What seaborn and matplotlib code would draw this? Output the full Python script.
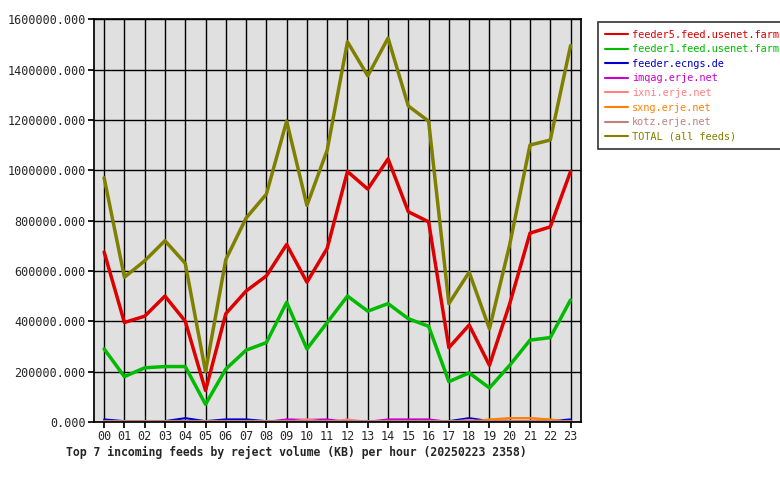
import matplotlib
matplotlib.use("Agg")
import matplotlib.pyplot as plt
import seaborn as sns
import pandas as pd

sns.set_theme(style="white")
plt.rcParams["font.family"] = ["DejaVu Sans Mono"]

hours = [f"{h:02d}" for h in range(24)]
feeder5 = [675000, 395000, 420000, 500000, 400000, 125000, 430000, 520000, 580000, 705000, 555000, 690000,
           995000, 925000, 1045000, 835000, 795000, 295000, 385000, 225000, 470000, 750000, 775000, 995000]
feeder1 = [290000, 180000, 215000, 220000, 220000, 70000, 210000, 285000, 315000, 475000, 290000, 395000,
           500000, 440000, 470000, 410000, 380000, 160000, 195000, 135000, 225000, 325000, 335000, 485000]
ecngs = [10000, 3000, 3000, 3000, 15000, 3000, 10000, 10000, 3000, 3000, 3000, 3000,
         3000, 3000, 3000, 3000, 3000, 3000, 15000, 3000, 3000, 3000, 3000, 10000]
imqag = [0, 0, 0, 0, 0, 0, 0, 0, 0, 10000, 8000, 10000, 0, 0, 10000, 10000, 10000, 0, 0, 0, 0, 0, 0, 0]
ixni = [0, 0, 0, 0, 0, 0, 0, 0, 0, 0, 10000, 0, 10000, 0, 0, 0, 0, 0, 8000, 0, 15000, 15000, 8000, 0]
sxng = [0, 0, 0, 0, 0, 0, 0, 0, 0, 0, 0, 0, 0, 0, 0, 0, 0, 0, 0, 10000, 15000, 15000, 10000, 0]
kotz = [3000] * 24
total = [970000, 575000, 640000, 720000, 630000, 200000, 645000, 810000, 905000, 1195000, 860000, 1080000,
         1510000, 1375000, 1525000, 1255000, 1195000, 470000, 595000, 370000, 705000, 1100000, 1120000, 1495000]

names = ["feeder5.feed.usenet.farm", "feeder1.feed.usenet.farm", "feeder.ecngs.de", "imqag.erje.net",
         "ixni.erje.net", "sxng.erje.net", "kotz.erje.net", "TOTAL (all feeds)"]
series = [feeder5, feeder1, ecngs, imqag, ixni, sxng, kotz, total]
colors = ["#dd0000", "#00bb00", "#0000cc", "#cc00cc", "#ff8080", "#ff8000", "#c08080", "#808000"]
widths = [2.5, 2.5, 1.5, 1.5, 1.5, 1.5, 1.5, 2.5]

rows = []
for n, vals in zip(names, series):
    for i, v in enumerate(vals):
        rows.append({"hour": i, "feed": n, "kb": v})
df = pd.DataFrame(rows)

fig = plt.figure(figsize=(7.8, 4.8), dpi=100)
ax = fig.add_axes([0.1205, 0.121, 0.624, 0.839])
ax.set_facecolor("#e0e0e0")
for n, c, w in zip(names, colors, widths):
    sns.lineplot(data=df[df.feed == n], x="hour", y="kb", color=c, linewidth=w, ax=ax, label=n)

ax.set_xlim(-0.5, 23.5)
ax.set_ylim(0, 1600000)
ax.set_xticks(range(24))
ax.set_xticklabels(hours, fontsize=8.5)
ax.set_yticks(range(0, 1600001, 200000))
ax.set_yticklabels([f"{v}.000" for v in range(0, 1600001, 200000)], fontsize=8.5)
ax.grid(True, color="black", linewidth=1)
ax.set_axisbelow(True)
for s in ax.spines.values():
    s.set_color("black")
ax.tick_params(axis="both", length=4, color="black", direction="out", bottom=True, left=True, pad=2)
ax.set_xlabel("")
ax.set_ylabel("")

leg = ax.legend(loc="upper left", bbox_to_anchor=(1.025, 1.005), frameon=True, fontsize=7.4,
                handlelength=2.2, handletextpad=0.4, borderpad=0.7, labelspacing=0.45, fancybox=False)
leg.get_frame().set_edgecolor("black")
leg.get_frame().set_linewidth(1.2)
for t, c in zip(leg.get_texts(), colors):
    t.set_color(c)
for l in leg.get_lines():
    l.set_linewidth(1.5)

fig.text(0.085, 0.05, "Top 7 incoming feeds by reject volume (KB) per hour (20250223 2358)",
         fontsize=8.3, fontweight="bold")
fig.savefig("out.png", dpi=100)
